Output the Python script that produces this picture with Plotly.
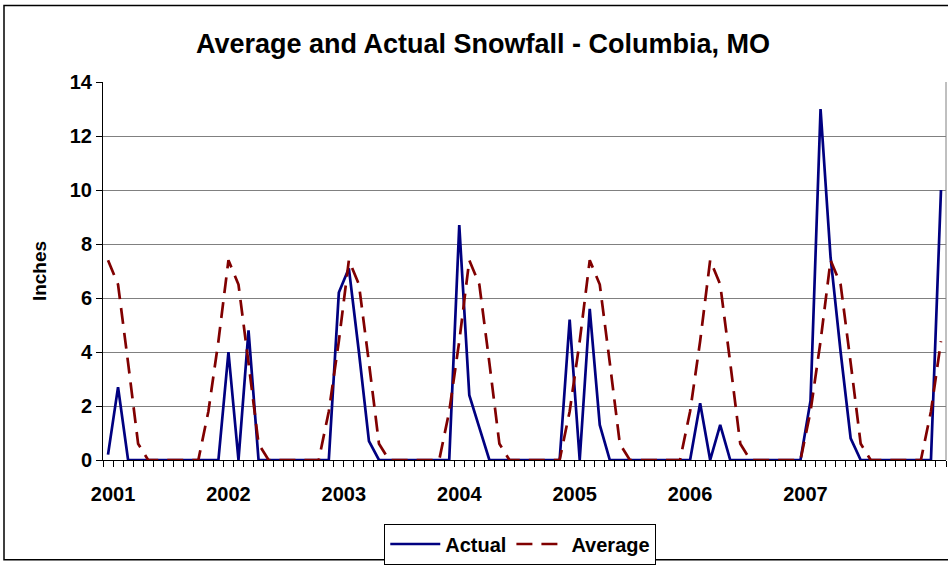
import plotly.graph_objects as go

# Year labels along the category axis
years = ["2001", "2002", "2003", "2004", "2005", "2006", "2007"]

# Monthly normal snowfall (inches), Jan..Dec
average_month = [7.4, 6.5, 3.6, 0.6, 0, 0, 0, 0, 0, 0, 1.8, 4.4]

# Observed monthly snowfall (inches), Jan..Dec of each year
actual_2001 = [0.2, 2.7, 0, 0, 0, 0, 0, 0, 0, 0, 0, 0]
actual_2002 = [4.0, 0, 4.8, 0, 0, 0, 0, 0, 0, 0, 0, 6.2]
actual_2003 = [7.1, 4.0, 0.7, 0, 0, 0, 0, 0, 0, 0, 0, 8.7]
actual_2004 = [2.4, 1.2, 0, 0, 0, 0, 0, 0, 0, 0, 5.2, 0]
actual_2005 = [5.6, 1.3, 0, 0, 0, 0, 0, 0, 0, 0, 0, 2.1]
actual_2006 = [0, 1.3, 0, 0, 0, 0, 0, 0, 0, 0, 2.2, 13.0]
actual_2007 = [7.5, 4.0, 0.8, 0, 0, 0, 0, 0, 0, 0, 0, 10.0]

actual = (actual_2001 + actual_2002 + actual_2003 + actual_2004
          + actual_2005 + actual_2006 + actual_2007)
average = average_month * len(years)
idx = list(range(len(actual)))

FONT = "Arial, Liberation Sans, sans-serif"

fig = go.Figure()
fig.add_trace(go.Scatter(
    x=idx, y=actual, name="Actual", mode="lines",
    line=dict(color="#000080", width=2.7),
))
fig.add_trace(go.Scatter(
    x=idx, y=average, name="Average", mode="lines",
    line=dict(color="#800000", width=2.7, dash="16px,9px"),
))

n = len(actual)
label_pos = [0.5 + 11.5 * k for k in range(len(years))]

fig.update_layout(
    width=948, height=567,
    margin=dict(l=103, r=2, t=82, b=103),
    paper_bgcolor="white", plot_bgcolor="white",
    font=dict(family=FONT, color="black", size=20, weight="bold"),
    title=dict(
        text="Average and Actual Snowfall - Columbia, MO",
        font=dict(family=FONT, size=27, color="black", weight="bold"),
        x=483 / 948, xanchor="center", xref="container",
        y=1 - 44 / 567, yanchor="middle", yref="container",
    ),
    showlegend=True,
    legend=dict(
        orientation="h", x=0.495, xanchor="center", y=-0.168, yanchor="top",
        bordercolor="black", borderwidth=1, bgcolor="white",
        font=dict(family=FONT, size=20, color="black", weight="bold"),
        itemwidth=50, traceorder="normal",
    ),
    xaxis=dict(
        range=[-0.5, n - 0.5], showgrid=False, zeroline=False,
        showline=True, linecolor="black", linewidth=1,
        tickmode="array", tickvals=label_pos, ticktext=years,
        ticks="outside", ticklen=16, tickcolor="rgba(0,0,0,0)",
        tickfont=dict(family=FONT, size=20, color="black", weight="bold"),
        minor=dict(tickmode="array", tickvals=[i - 0.5 for i in range(n + 1)],
                   ticks="outside", ticklen=6, tickcolor="black", tickwidth=1,
                   showgrid=False),
    ),
    yaxis=dict(
        range=[0, 14], dtick=2, tick0=0,
        showgrid=True, gridcolor="#808080", gridwidth=1,
        zeroline=False, showline=True, linecolor="black", linewidth=1,
        ticks="outside", ticklen=6, tickcolor="black",
        tickfont=dict(family=FONT, size=20, color="black", weight="bold"),
        title=dict(text="Inches", standoff=18,
                   font=dict(family=FONT, size=19, color="black", weight="bold")),
    ),
    shapes=[
        # plot-area right edge
        dict(type="line", xref="paper", yref="paper", x0=1, x1=1, y0=0, y1=1,
             line=dict(color="#808080", width=1)),
        # chart-area frame
        dict(type="rect", xref="paper", yref="paper",
             x0=(4 - 103) / 843, x1=(950 - 103) / 843,
             y0=(464.3 - 565) / 382, y1=(464.3 - 5) / 382,
             line=dict(color="black", width=1.5), layer="below"),
    ],
)

fig.write_html("out.html")
